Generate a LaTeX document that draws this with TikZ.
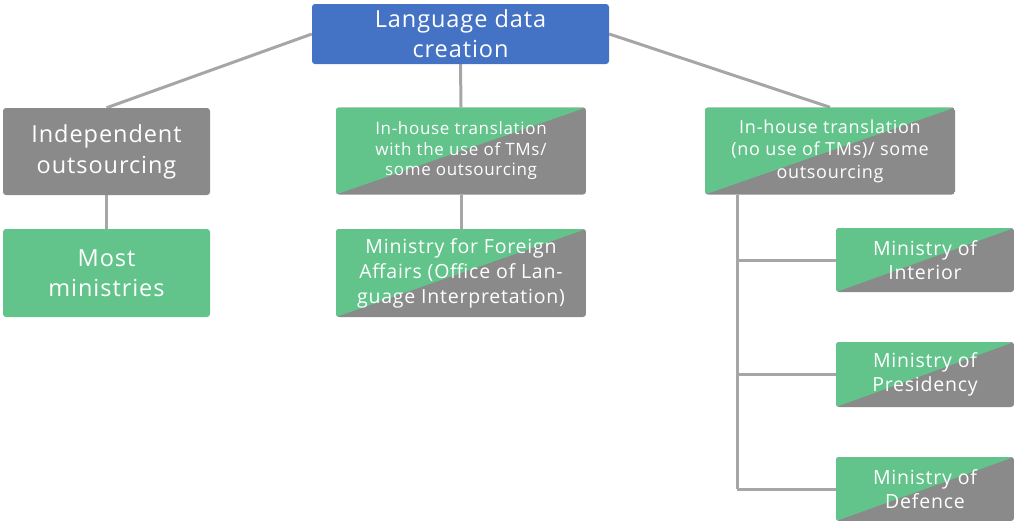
\documentclass[tikz,border=0pt]{standalone}
\usepackage{fontspec}
\setmainfont{Open Sans}[LetterSpace=4]
\usetikzlibrary{backgrounds}
\definecolor{topblue}{HTML}{4472C4}
\definecolor{boxgray}{HTML}{8A8A8A}
\definecolor{boxgreen}{HTML}{62C48A}
\definecolor{linkgray}{HTML}{A6A6A6}
\tikzset{
  x=1pt, y=-1pt,
  basebox/.style={rounded corners=3pt, inner sep=0pt, align=center, text=white},
  bluebox/.style={basebox, fill=topblue},
  graybox/.style={basebox, fill=boxgray},
  greenbox/.style={basebox, fill=boxgreen},
  splitbox/.style={basebox, path picture={
      \fill[boxgray] (path picture bounding box.south west) rectangle (path picture bounding box.north east);
      \fill[boxgreen] (path picture bounding box.south west) -- (path picture bounding box.north west)
        -- (path picture bounding box.north east) -- cycle;}},
  link/.style={draw=linkgray, line width=3pt},
}
\begin{document}
\begin{tikzpicture}
\useasboundingbox (0,0) rectangle (1014,520);
% root
\node[bluebox, minimum width=297pt, minimum height=60pt, font=\fontsize{23.5}{30}\selectfont] (root) at (460.5,34) {Language data\\creation};
% second level
\node[graybox, minimum width=207pt, minimum height=87pt, font=\fontsize{23.5}{31}\selectfont] (indep) at (106.5,151.5) {Independent\\outsourcing};
\node[splitbox, minimum width=250pt, minimum height=87pt, font=\fontsize{17}{20.5}\selectfont] (tmuse) at (461,151) {In-house translation\\with the use of TMs/\\some outsourcing};
\node[splitbox, minimum width=250pt, minimum height=87pt, font=\fontsize{18}{22.5}\selectfont] (notm) at (830,151) {In-house translation\\(no use of TMs)/ some\\outsourcing};
% third level
\node[greenbox, minimum width=207pt, minimum height=88pt, font=\fontsize{23.5}{30}\selectfont] (most) at (106.5,273) {Most\\ministries};
\node[splitbox, minimum width=250pt, minimum height=88pt, font=\fontsize{19.5}{25}\selectfont] (foreign) at (461,273) {Ministry for Foreign\\Affairs (Office of Lan-\\guage Interpretation)};
\node[splitbox, minimum width=178pt, minimum height=64pt, font=\fontsize{19.5}{24}\selectfont] (interior) at (925,260) {Ministry of\\Interior};
\node[splitbox, minimum width=178pt, minimum height=65pt, font=\fontsize{19.5}{24}\selectfont] (presidency) at (925,374.5) {Ministry of\\Presidency};
\node[splitbox, minimum width=178pt, minimum height=64pt, font=\fontsize{19.5}{24}\selectfont] (defence) at (925,489) {Ministry of\\Defence};
\coordinate (trunk) at (737,489);
% connectors
\begin{scope}[on background layer]
\draw[link] (root.west) -- (indep.north);
\draw[link] (root.south) -- (tmuse.north);
\draw[link] (root.east) -- (notm.north);
\draw[link] (indep.south) -- (most.north);
\draw[link] (tmuse.south) -- (foreign.north);
\draw[link] (notm.south -| trunk) -- (trunk);
\draw[link] (interior.west -| trunk) -- (interior.west);
\draw[link] (presidency.west -| trunk) -- (presidency.west);
\draw[link] (trunk) -- (defence.west);
\end{scope}
\end{tikzpicture}
\end{document}
